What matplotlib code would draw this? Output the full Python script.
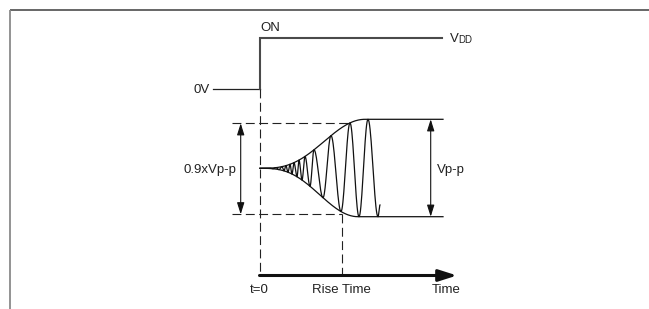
import numpy as np
import matplotlib
matplotlib.use("Agg")
import matplotlib.pyplot as plt

plt.rcParams['font.family'] = ['Liberation Sans', 'DejaVu Sans']

# diagram coordinates (pixel grid of the original drawing, y grows downward)
t0 = 260            # power-on instant
t_rise = 341.5      # end of rise time
t_end = 457         # tip of time arrow
x_left_ref = 232    # start of 0.9 Vp-p reference dashes
x_flat_end = 443    # end of settled envelope lines

y_vdd = 38.3
y_0v = 89.3
y_axis = 275.5
y_mid = 168.3
y_top = 119.3
y_bot = 216.7
y_09_top = 123.3
y_09_bot = 214.3

# envelope: where it leaves the centre and where it flattens
env_top_x = [260, 365]
env_bot_x = [260, 358]

# oscillation extremes (alternating trough / peak)
osc_x = [266, 270, 273, 276, 279, 282, 284, 286, 288, 290, 292, 294, 297,
         299, 302, 305, 310, 314, 323, 331, 341, 350, 359, 368, 378]
osc_first_is_peak = False
osc_end = (380, 205)

labels_bottom = ["t=0", "Rise Time", "Time"]
labels_bottom_x = [259, 341.5, 446]


def envelope(x, xs, level):
    t = np.clip((np.asarray(x, float) - xs[0]) / (xs[1] - xs[0]), 0, 1)
    frac = ((1 - np.cos(np.pi * t)) / 2) ** 1.5
    return y_mid + (level - y_mid) * frac


fig = plt.figure(figsize=(6.49, 3.09), dpi=100)
ax = fig.add_axes([0, 0, 1, 1])
ax.set_xlim(0, 649)
ax.set_ylim(309, 0)
ax.axis('off')

# outer frame (top and left edges only)
ax.plot([9.5, 649], [10, 10], color='#5a5a5a', lw=1.3, solid_capstyle='butt')
ax.plot([9.5, 9.5], [10, 309], color='#8a8a8a', lw=1.3, solid_capstyle='butt')

# power step
ax.plot([212.5, t0], [y_0v, y_0v], color='#222222', lw=0.9)
ax.plot([t0, t0, 442], [y_0v, y_vdd, y_vdd], color='#4a4a4a', lw=1.5,
        solid_joinstyle='miter')
ax.text(210, y_0v + 1, "0V", ha='right', va='center', fontsize=9.5, color='#222222')
ax.text(t0, y_vdd - 10, "ON", ha='left', va='center', fontsize=9.5, color='#222222')
ax.text(449.5, y_vdd + 1, "V", ha='left', va='center', fontsize=9.5, color='#222222')
ax.text(458, y_vdd + 1.8, "DD", ha='left', va='center', fontsize=7, color='#222222')

dash = dict(color='#222222', lw=0.8, dashes=(8, 4))
ax.plot([t0 - 0.5, t0 - 0.5], [y_0v, y_axis], **dash)
ax.plot([x_left_ref, 350], [y_09_top, y_09_top], **dash)
ax.plot([x_left_ref, t_rise], [y_09_bot, y_09_bot], **dash)
ax.plot([t_rise, t_rise], [y_09_bot, y_axis], **dash)

# envelope lines
xe = np.linspace(env_top_x[0], x_flat_end, 400)
ax.plot(xe, envelope(xe, env_top_x, y_top), color='#111111', lw=0.9)
ax.plot(xe, envelope(xe, env_bot_x, y_bot), color='#111111', lw=0.9)

# oscillating output
ex = [env_top_x[0]]
ey = [y_mid]
peak = osc_first_is_peak
for x in osc_x:
    ex.append(x)
    ey.append(float(envelope(x, env_top_x, y_top) if peak
                    else envelope(x, env_bot_x, y_bot)))
    peak = not peak
ex.append(osc_end[0])
ey.append(osc_end[1])
wx, wy = [], []
for i in range(len(ex) - 1):
    s = np.linspace(0, 1, 20)
    wx.extend(ex[i] + (ex[i + 1] - ex[i]) * s)
    wy.extend(ey[i] + (ey[i + 1] - ey[i]) * (1 - np.cos(np.pi * s)) / 2)
ax.plot(wx, wy, color='#111111', lw=0.9)

# peak-to-peak markers
arr = dict(arrowstyle='<|-|>,head_length=0.7,head_width=0.22', color='#111111',
           lw=0.8, shrinkA=0, shrinkB=0, mutation_scale=10)
ax.annotate('', xy=(240.7, y_09_top), xytext=(240.7, y_09_bot), arrowprops=arr)
ax.annotate('', xy=(430.7, y_top), xytext=(430.7, y_bot), arrowprops=arr)
ax.text(236, y_mid + 1.5, "0.9xVp-p", ha='right', va='center', fontsize=9.5,
        color='#222222')
ax.text(437, y_mid + 1.5, "Vp-p", ha='left', va='center', fontsize=9.5,
        color='#222222')

# time axis
ax.annotate('', xy=(t_end, y_axis), xytext=(t0 - 0.5, y_axis),
            arrowprops=dict(arrowstyle='-|>,head_length=1.1,head_width=0.35',
                            color='#111111', lw=2.2, shrinkA=0, shrinkB=0,
                            mutation_scale=10))
for lab, x in zip(labels_bottom, labels_bottom_x):
    ax.text(x, 290, lab, ha='center', va='center', fontsize=9.5, color='#222222')

fig.savefig("out.png", dpi=100)
